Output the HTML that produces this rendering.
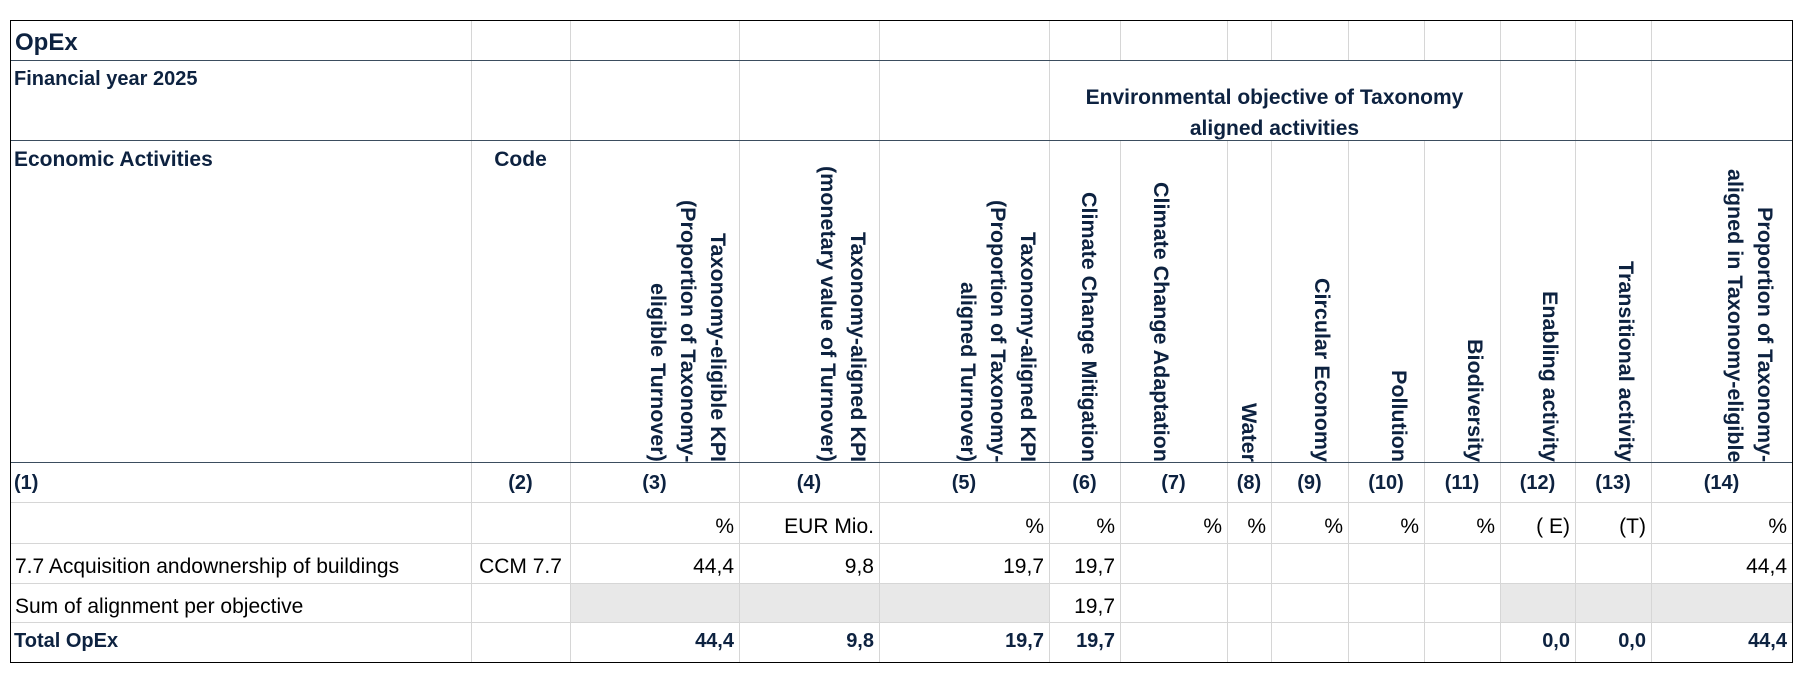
<!DOCTYPE html>
<html><head><meta charset="utf-8"><style>
*{margin:0;padding:0;box-sizing:border-box}
body{width:1803px;height:679px;background:#fff;position:relative;overflow:hidden;font-family:"Liberation Sans",Arial,sans-serif;color:#000}
.h{position:absolute;height:0;border-top:1.5px solid #3b4d5e}
.hl{position:absolute;height:0;border-top:1px solid #d6d6d6}
.v{position:absolute;width:0;border-left:1px solid #d6d6d6}
.t{position:absolute;font-size:21px;line-height:21px;white-space:nowrap}
.b{font-weight:bold;color:#0d2240;font-size:20px}
.r{text-align:right}
.c{text-align:center}
.vt{position:absolute;writing-mode:vertical-rl;text-align:right;font-weight:bold;color:#0d2240;font-size:21.5px;line-height:30px;overflow:hidden;white-space:nowrap;padding-right:6px}
.g{position:absolute;background:#e8e8e8}
</style></head><body>
<div class="g" style="left:570px;top:583px;width:479px;height:39px"></div>
<div class="g" style="left:1500px;top:583px;width:292px;height:39px"></div>

<div class="v" style="left:471px;top:20px;height:642px"></div>
<div class="v" style="left:570px;top:20px;height:642px"></div>
<div class="v" style="left:739px;top:20px;height:642px"></div>
<div class="v" style="left:879px;top:20px;height:642px"></div>
<div class="v" style="left:1049px;top:20px;height:642px"></div>
<div class="v" style="left:1120px;top:20px;height:40px"></div><div class="v" style="left:1120px;top:140px;height:522px"></div>
<div class="v" style="left:1227px;top:20px;height:40px"></div><div class="v" style="left:1227px;top:140px;height:522px"></div>
<div class="v" style="left:1271px;top:20px;height:40px"></div><div class="v" style="left:1271px;top:140px;height:522px"></div>
<div class="v" style="left:1348px;top:20px;height:40px"></div><div class="v" style="left:1348px;top:140px;height:522px"></div>
<div class="v" style="left:1424px;top:20px;height:40px"></div><div class="v" style="left:1424px;top:140px;height:522px"></div>
<div class="v" style="left:1500px;top:20px;height:642px"></div>
<div class="v" style="left:1575px;top:20px;height:642px"></div>
<div class="v" style="left:1651px;top:20px;height:642px"></div>

<div class="h" style="left:11px;top:60px;width:1781px"></div>
<div class="h" style="left:11px;top:140px;width:1781px"></div>
<div class="h" style="left:11px;top:462px;width:1781px"></div>
<div class="hl" style="left:11px;top:502px;width:1781px"></div>
<div class="hl" style="left:11px;top:543px;width:1781px"></div>
<div class="hl" style="left:11px;top:583px;width:1781px"></div>
<div class="hl" style="left:11px;top:622px;width:1781px"></div>

<div style="position:absolute;left:10px;top:20px;width:1783px;height:643px;border:1.5px solid #000"></div>

<div class="t b" style="left:15px;top:31px;font-size:24px;line-height:24px">OpEx</div>
<div class="t b" style="left:14px;top:69px">Financial year 2025</div>
<div class="t b c" style="left:1049px;width:451px;top:82px;line-height:31px;font-size:21px">Environmental objective of Taxonomy<br>aligned activities</div>
<div class="t b" style="left:14px;top:149px;font-size:21px">Economic Activities</div>
<div class="t b c" style="left:471px;width:99px;top:149px;font-size:21px">Code</div>

<div class="vt" style="left:570px;top:140px;width:169px;height:322px">Taxonomy-eligible KPI<br>(Proportion of Taxonomy-<br>eligible Turnover)</div>
<div class="vt" style="left:739px;top:140px;width:140px;height:322px">Taxonomy-aligned KPI<br>(monetary value of Turnover)</div>
<div class="vt" style="left:879px;top:140px;width:170px;height:322px">Taxonomy-aligned KPI<br>(Proportion of Taxonomy-<br>aligned Turnover)</div>
<div class="vt" style="left:1049px;top:140px;width:71px;height:322px;padding-right:16px">Climate Change Mitigation</div>
<div class="vt" style="left:1120px;top:140px;width:107px;height:322px;padding-right:51px">Climate Change Adaptation</div>
<div class="vt" style="left:1227px;top:140px;width:44px;height:322px;padding-right:7px">Water</div>
<div class="vt" style="left:1271px;top:140px;width:77px;height:322px;padding-right:11px">Circular Economy</div>
<div class="vt" style="left:1348px;top:140px;width:76px;height:322px;padding-right:10px">Pollution</div>
<div class="vt" style="left:1424px;top:140px;width:76px;height:322px;padding-right:10px">Biodiversity</div>
<div class="vt" style="left:1500px;top:140px;width:75px;height:322px;padding-right:10px">Enabling activity</div>
<div class="vt" style="left:1575px;top:140px;width:76px;height:322px;padding-right:10px">Transitional activity</div>
<div class="vt" style="left:1651px;top:140px;width:141px;height:322px;padding-right:12px">Proportion of Taxonomy-<br>aligned in Taxonomy-eligible</div>

<div class="t b" style="left:14px;top:473px">(1)</div>
<div class="t b c" style="left:471px;width:99px;top:473px">(2)</div>
<div class="t b c" style="left:570px;width:169px;top:473px">(3)</div>
<div class="t b c" style="left:739px;width:140px;top:473px">(4)</div>
<div class="t b c" style="left:879px;width:170px;top:473px">(5)</div>
<div class="t b c" style="left:1049px;width:71px;top:473px">(6)</div>
<div class="t b c" style="left:1120px;width:107px;top:473px">(7)</div>
<div class="t b c" style="left:1227px;width:44px;top:473px">(8)</div>
<div class="t b c" style="left:1271px;width:77px;top:473px">(9)</div>
<div class="t b c" style="left:1348px;width:76px;top:473px">(10)</div>
<div class="t b c" style="left:1424px;width:76px;top:473px">(11)</div>
<div class="t b c" style="left:1500px;width:75px;top:473px">(12)</div>
<div class="t b c" style="left:1575px;width:76px;top:473px">(13)</div>
<div class="t b c" style="left:1651px;width:141px;top:473px">(14)</div>

<div class="t r" style="left:570px;width:164px;top:516px">%</div>
<div class="t r" style="left:739px;width:135px;top:516px">EUR Mio.</div>
<div class="t r" style="left:879px;width:165px;top:516px">%</div>
<div class="t r" style="left:1049px;width:66px;top:516px">%</div>
<div class="t r" style="left:1120px;width:102px;top:516px">%</div>
<div class="t r" style="left:1227px;width:39px;top:516px">%</div>
<div class="t r" style="left:1271px;width:72px;top:516px">%</div>
<div class="t r" style="left:1348px;width:71px;top:516px">%</div>
<div class="t r" style="left:1424px;width:71px;top:516px">%</div>
<div class="t r" style="left:1500px;width:70px;top:516px">( E)</div>
<div class="t r" style="left:1575px;width:71px;top:516px">(T)</div>
<div class="t r" style="left:1651px;width:136px;top:516px">%</div>

<div class="t" style="left:15px;top:556px">7.7 Acquisition andownership of buildings</div>
<div class="t c" style="left:471px;width:99px;top:556px">CCM 7.7</div>
<div class="t r" style="left:570px;width:164px;top:556px">44,4</div>
<div class="t r" style="left:739px;width:135px;top:556px">9,8</div>
<div class="t r" style="left:879px;width:165px;top:556px">19,7</div>
<div class="t r" style="left:1049px;width:66px;top:556px">19,7</div>
<div class="t r" style="left:1651px;width:136px;top:556px">44,4</div>

<div class="t" style="left:15px;top:596px">Sum of alignment per objective</div>
<div class="t r" style="left:1049px;width:66px;top:596px">19,7</div>

<div class="t b" style="left:14px;top:631px">Total OpEx</div>
<div class="t b r" style="left:570px;width:164px;top:631px">44,4</div>
<div class="t b r" style="left:739px;width:135px;top:631px">9,8</div>
<div class="t b r" style="left:879px;width:165px;top:631px">19,7</div>
<div class="t b r" style="left:1049px;width:66px;top:631px">19,7</div>
<div class="t b r" style="left:1500px;width:70px;top:631px">0,0</div>
<div class="t b r" style="left:1575px;width:71px;top:631px">0,0</div>
<div class="t b r" style="left:1651px;width:136px;top:631px">44,4</div>
</body></html>
